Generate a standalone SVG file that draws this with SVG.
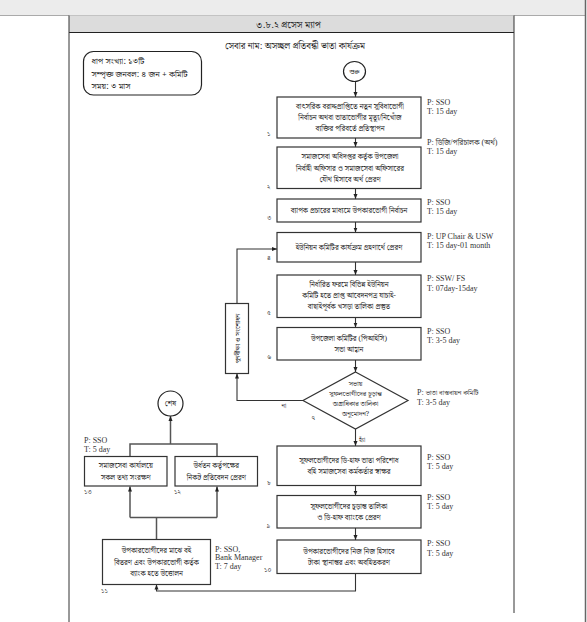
<svg xmlns="http://www.w3.org/2000/svg" width="587" height="622" viewBox="0 0 587 622">
<style>
.bn{font-family:"Noto Serif Bengali","Noto Sans Bengali","Lohit Bengali","Noto Sans","DejaVu Sans",sans-serif;font-size:7.4px;fill:#222;text-anchor:middle}
.bnl{text-anchor:start}
.dm{font-size:6.9px}
.inf{font-size:8.6px}
.num{font-family:"Noto Serif Bengali","Noto Sans Bengali","Noto Sans",sans-serif;font-size:6.5px;fill:#333}
.pt{font-family:"Liberation Serif","Noto Serif Bengali","Noto Sans Bengali",serif;font-size:8px;fill:#333}
.box{fill:#fff;stroke:#333;stroke-width:1.2}
.ln{fill:none;stroke:#333;stroke-width:1.1}
.ln2{fill:none;stroke:#555;stroke-width:1.5}
</style>
<defs>
<marker id="ah" viewBox="0 0 10 10" refX="10" refY="5" markerWidth="5" markerHeight="5" orient="auto" markerUnits="userSpaceOnUse">
<path d="M0,1 L10,5 L0,9 z" fill="#222"/>
</marker>
</defs>
<rect x="0" y="0" width="587" height="622" fill="#fff"/>
<rect x="0" y="0" width="585" height="15.5" fill="#ececec"/>
<line x1="0" y1="15.5" x2="585" y2="15.5" stroke="#aaa" stroke-width="1"/>
<line x1="585.5" y1="0" x2="585.5" y2="622" stroke="#666" stroke-width="1.5"/>
<g id="frame">
<rect x="69" y="15.5" width="445" height="17" fill="#dcdcdc"/>
<line x1="69" y1="32.5" x2="514" y2="32.5" stroke="#222" stroke-width="1.2"/>
<line x1="69" y1="15.5" x2="69" y2="622" stroke="#333" stroke-width="1"/>
<line x1="514" y1="15.5" x2="514" y2="613" stroke="#333" stroke-width="1"/>
<text class="bn" x="288.5" y="27.5" style="font-size:9.5px">৩.৮.২ প্রসেস ম্যাপ</text>
<text class="bn" x="295" y="48.5" style="font-size:9.2px">সেবার নাম: অসচ্ছল প্রতিবন্ধী ভাতা কার্যক্রম</text>
</g>
<g id="info">
<rect x="83.5" y="51.5" width="118" height="43.5" rx="10" fill="#fff" stroke="#222" stroke-width="1.2"/>
<text class="bn bnl inf" x="91.5" y="64.2">ধাপ সংখ্যা: ১৩টি</text>
<text class="bn bnl inf" x="91.5" y="76.7">সম্পৃক্ত জনবল: ৪ জন + কমিটি</text>
<text class="bn bnl inf" x="91.5" y="89.2">সময়: ৩ মাস</text>
</g>
<g id="connectors">
<line class="ln" x1="355.5" y1="81.5" x2="355.5" y2="97" marker-end="url(#ah)"/>
<line class="ln" x1="355.5" y1="138" x2="355.5" y2="147" marker-end="url(#ah)"/>
<line class="ln" x1="355.5" y1="188.5" x2="355.5" y2="199" marker-end="url(#ah)"/>
<line class="ln" x1="355.5" y1="222" x2="355.5" y2="232.5" marker-end="url(#ah)"/>
<line class="ln" x1="355.5" y1="262" x2="355.5" y2="275" marker-end="url(#ah)"/>
<line class="ln" x1="355.5" y1="317.5" x2="355.5" y2="327.5" marker-end="url(#ah)"/>
<line class="ln" x1="355.5" y1="360" x2="355.5" y2="372" marker-end="url(#ah)"/>
<line class="ln" x1="355.5" y1="429" x2="355.5" y2="446" marker-end="url(#ah)"/>
<line class="ln" x1="355.5" y1="485.5" x2="355.5" y2="495.5" marker-end="url(#ah)"/>
<line class="ln" x1="355.5" y1="528" x2="355.5" y2="540" marker-end="url(#ah)"/>
<polyline class="ln" points="355.5,573.5 355.5,591 156.5,591 156.5,584.5" marker-end="url(#ah)"/>
<polyline class="ln" points="303,400.5 237,400.5 237,373.5" marker-end="url(#ah)"/>
<polyline class="ln" points="237,303.5 237,249 277,249" marker-end="url(#ah)"/>
<line class="ln2" x1="156.5" y1="539.5" x2="156.5" y2="517.5"/>
<line class="ln2" x1="130" y1="517.5" x2="217" y2="517.5"/>
<line class="ln2" x1="130" y1="517.5" x2="130" y2="486.5" marker-end="url(#ah)"/>
<line class="ln2" x1="217" y1="517.5" x2="217" y2="486.5" marker-end="url(#ah)"/>
<polyline class="ln2" points="130,456.5 130,444 217,444 217,456.5"/>
<line class="ln2" x1="170.5" y1="444" x2="170.5" y2="416" marker-end="url(#ah)"/>
</g>
<g id="start">
<ellipse cx="354.5" cy="71.5" rx="11" ry="10" fill="#fff" stroke="#222" stroke-width="1.2"/>
<text class="bn" x="354.5" y="74" style="font-size:6.8px">শুরু</text>
</g>
<g id="s1">
<rect class="box" x="277" y="97" width="144" height="41"/>
<text class="bn" x="350" y="108.7">বাৎসরিক বরাদ্দপ্রাপ্তিতে নতুন সুবিধাভোগী</text>
<text class="bn" x="350" y="120">নির্বাচন অথবা ভাতাভোগীর মৃত্যু/নিখোঁজ</text>
<text class="bn" x="350" y="131.3">ব্যক্তির পরিবর্তে প্রতিস্থাপন</text>
<text class="num" x="267" y="136">১</text>
<text class="pt" x="427" y="104.5">P: SSO</text>
<text class="pt" x="427" y="113.5">T: 15 day</text>
</g>
<g id="s2">
<rect class="box" x="277" y="147" width="144" height="41.5"/>
<text class="bn" x="350" y="159.2">সমাজসেবা অধিদপ্তর কর্তৃক উপজেলা</text>
<text class="bn" x="350" y="170.5">নির্বাহী অফিসার ও সমাজসেবা অফিসারের</text>
<text class="bn" x="350" y="181.8">যৌথ হিসাবে অর্থ প্রেরণ</text>
<text class="num" x="267" y="189">২</text>
<text class="pt" x="427" y="144.5">P: ডিজি/পরিচালক (অর্থ)</text>
<text class="pt" x="427" y="154">T: 15 day</text>
</g>
<g id="s3">
<rect class="box" x="277" y="199" width="144" height="23"/>
<text class="bn" x="349" y="213">ব্যাপক প্রচারের মাধ্যমে উপকারভোগী নির্বাচন</text>
<text class="num" x="267" y="220">৩</text>
<text class="pt" x="427" y="204.5">P: SSO</text>
<text class="pt" x="427" y="213.5">T: 15 day</text>
</g>
<g id="s4">
<rect class="box" x="277" y="232.5" width="144" height="29.5"/>
<text class="bn" x="349" y="249.5">ইউনিয়ন কমিটির কার্যক্রম গ্রহণার্থে প্রেরণ</text>
<text class="num" x="267" y="260">৪</text>
<text class="pt" x="427" y="239.3">P: UP Chair &amp; USW</text>
<text class="pt" x="427" y="248">T: 15 day-01 month</text>
</g>
<g id="s5">
<rect class="box" x="277" y="275" width="144" height="42.5"/>
<text class="bn" x="349" y="286.5">নির্ধারিত ফরমে বিভিন্ন ইউনিয়ন</text>
<text class="bn" x="349" y="297.8">কমিটি হতে প্রাপ্ত আবেদনপত্র যাচাই-</text>
<text class="bn" x="349" y="309">বাছাইপূর্বক খসড়া তালিকা প্রস্তুত</text>
<text class="num" x="267" y="315">৫</text>
<text class="pt" x="427" y="281">P: SSW/ FS</text>
<text class="pt" x="427" y="290.5">T: 07day-15day</text>
</g>
<g id="s6">
<rect class="box" x="277" y="327.5" width="144" height="32.5"/>
<text class="bn" x="349" y="340.5">উপজেলা কমিটির (পিআইসি)</text>
<text class="bn" x="349" y="352">সভা আহ্বান</text>
<text class="num" x="267" y="359">৬</text>
<text class="pt" x="427" y="333.5">P: SSO</text>
<text class="pt" x="427" y="342.8">T: 3-5 day</text>
</g>
<g id="s7">
<polygon points="355.5,372 408,400.5 355.5,429 303,400.5" fill="#fff" stroke="#333" stroke-width="1.2"/>
<text class="bn dm" x="355.5" y="385.5">সভায়</text>
<text class="bn dm" x="355.5" y="395.8">সুফলভোগীদের চূড়ান্ত</text>
<text class="bn dm" x="355.5" y="406.1">অগ্রাধিকার তালিকা</text>
<text class="bn dm" x="355.5" y="416.4">অনুমোদন?</text>
<text class="num" x="311.5" y="419.5">৭</text>
<text class="num" x="281.5" y="408">না</text>
<text class="num" x="359" y="441.5">হ্যাঁ</text>
<text class="pt" x="417" y="394.5">P: <tspan style="font-size:7px">ভাতা বাস্তবায়ন কমিটি</tspan></text>
<text class="pt" x="417" y="404.5">T: 3-5 day</text>
</g>
<g id="revise">
<rect class="box" x="225.5" y="303.5" width="23" height="70"/>
<text class="bn" x="0" y="0" transform="translate(239.5,338.5) rotate(-90)" style="font-size:6.8px">পুনর্বীক্ষা ও সংশোধন</text>
</g>
<g id="s8">
<rect class="box" x="277" y="446" width="144" height="39.5"/>
<text class="bn" x="349" y="462.5">সুফলভোগীদের ডি-হাফ ভাতা পরিশোধ</text>
<text class="bn" x="349" y="474">বহি  সমাজসেবা কর্মকর্তার স্বাক্ষর</text>
<text class="num" x="267" y="485">৮</text>
<text class="pt" x="427" y="459.5">P: SSO</text>
<text class="pt" x="427" y="468.5">T: 5 day</text>
</g>
<g id="s9">
<rect class="box" x="277" y="495.5" width="144" height="32.5"/>
<text class="bn" x="349" y="508.5">সুফলভোগীদের চূড়ান্ত তালিকা</text>
<text class="bn" x="349" y="520">ও ডি-হাফ ব্যাংকে প্রেরণ</text>
<text class="num" x="266.5" y="528">৯</text>
<text class="pt" x="427" y="499.8">P: SSO</text>
<text class="pt" x="427" y="508.8">T: 5 day</text>
</g>
<g id="s10">
<rect class="box" x="277" y="540" width="144" height="33.5"/>
<text class="bn" x="349" y="553.5">উপকারভোগীদের নিজ নিজ হিসাবে</text>
<text class="bn" x="349" y="565">টাকা স্থানান্তর এবং অবহিতকরণ</text>
<text class="num" x="264" y="572">১০</text>
<text class="pt" x="427" y="546.3">P: SSO</text>
<text class="pt" x="427" y="555.8">T: 5 day</text>
</g>
<g id="s11">
<rect class="box" x="102.5" y="539.5" width="108" height="45"/>
<text class="bn" x="156.5" y="553">উপকারভোগীদের মাঝে বই</text>
<text class="bn" x="156.5" y="564.5">বিতরণ এবং  উপকারভোগী কর্তৃক</text>
<text class="bn" x="156.5" y="576">ব্যাংক হতে উত্তোলন</text>
<text class="num" x="101" y="593">১১</text>
<text class="pt" x="215" y="551.5">P: SSO,</text>
<text class="pt" x="215" y="560">Bank Manager</text>
<text class="pt" x="215" y="568.5">T: 7 day</text>
</g>
<g id="s12">
<rect class="box" x="175" y="456.5" width="82.5" height="29.5"/>
<text class="bn" x="216.3" y="468">উর্ধতন কর্তৃপক্ষের</text>
<text class="bn" x="216.3" y="479.5">নিকট প্রতিবেদন প্রেরণ</text>
<text class="num" x="174" y="494">১২</text>
</g>
<g id="s13">
<rect class="box" x="84.5" y="456.5" width="82.5" height="29.5"/>
<text class="bn" x="125.8" y="468">সমাজসেবা কার্যালয়ে</text>
<text class="bn" x="125.8" y="479.5">সকল তথ্য সংরক্ষণ</text>
<text class="num" x="84" y="494">১৩</text>
<text class="pt" x="84" y="442.8">P: SSO</text>
<text class="pt" x="84" y="452">T: 5 day</text>
</g>
<g id="end">
<circle cx="170.5" cy="403.5" r="12.5" fill="#fff" stroke="#222" stroke-width="1.2"/>
<text class="bn" x="170.5" y="406">শেষ</text>
</g>
</svg>
